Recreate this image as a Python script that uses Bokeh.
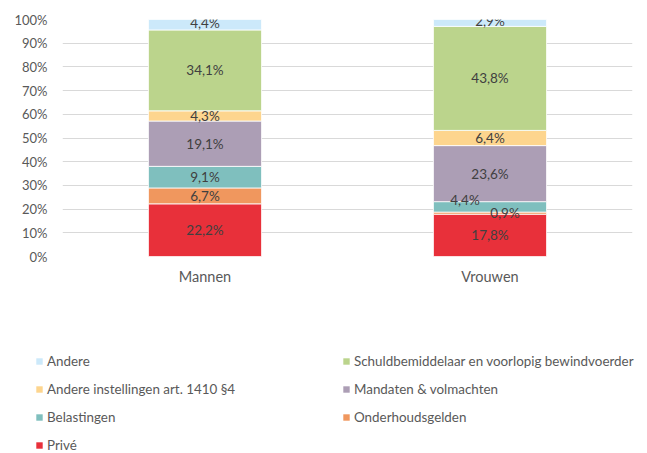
from bokeh.plotting import figure
from bokeh.layouts import column
from bokeh.models import (ColumnDataSource, Legend, LegendItem, PrintfTickFormatter,
                          FixedTicker, Range1d, FactorRange)
from bokeh.core.properties import value
from bokeh.embed import file_html
from bokeh.resources import INLINE

# ---- data ----
categories = ["Mannen", "Vrouwen"]
series_names = ["Privé", "Onderhoudsgelden", "Belastingen", "Mandaten & volmachten",
                "Andere instellingen art. 1410 §4",
                "Schuldbemiddelaar en voorlopig bewindvoerder", "Andere"]
prive = [22.2, 17.8]
onderhoudsgelden = [6.7, 0.9]
belastingen = [9.1, 4.4]
mandaten = [19.1, 23.6]
andere_instellingen = [4.3, 6.4]
schuldbemiddelaar = [34.1, 43.8]
andere = [4.4, 2.9]
y_ticks = [0, 10, 20, 30, 40, 50, 60, 70, 80, 90, 100]

series_values = [prive, onderhoudsgelden, belastingen, mandaten,
                 andere_instellingen, schuldbemiddelaar, andere]

# ---- style ----
colors = ["#E8303A", "#F0975E", "#7FBFBE", "#AC9EB5", "#FDD58E", "#BBD48C", "#CCE9FA"]
FONT = "Lato"
# manual label nudges (pixels) for (series index, category index)
label_nudges = {(2, 1): (-25, -7), (1, 1): (15, 0), (6, 0): (0, -2), (6, 1): (0, -2)}

p = figure(frame_width=570, frame_height=237, output_backend="svg", toolbar_location=None,
           x_range=FactorRange(*categories, range_padding=0),
           y_range=Range1d(0, 100),
           min_border_left=62, min_border_right=15, min_border_top=19,
           min_border_bottom=34)
p.outline_line_color = None
p.background_fill_color = "white"
p.border_fill_color = "white"

# separate strip below for the legend (frame covers the whole strip so nothing is clipped)
pl = figure(frame_width=647, frame_height=163, output_backend="svg", toolbar_location=None,
            x_range=FactorRange(*categories, range_padding=0), y_range=Range1d(0, 100),
            x_axis_location=None, y_axis_location=None,
            min_border_left=0, min_border_right=0, min_border_top=0, min_border_bottom=0)
pl.outline_line_color = None
pl.grid.visible = False
pl.background_fill_color = "white"
pl.border_fill_color = "white"

totals = [sum(v[i] for v in series_values) for i in range(len(categories))]
bottoms = [0.0] * len(categories)
legend_renderers = []
lab_x, lab_y, lab_t, lab_xo, lab_yo = [], [], [], [], []
for si, (name, vals, col) in enumerate(zip(series_names, series_values, colors)):
    norm = [vals[i] / totals[i] * 100 for i in range(len(categories))]
    tops = [bottoms[i] + norm[i] for i in range(len(categories))]
    src = ColumnDataSource(dict(x=categories, bottom=list(bottoms), top=tops))
    p.vbar(x="x", bottom="bottom", top="top", width=0.397, source=src,
           fill_color=col, line_color="white", line_width=0.8)
    lr = pl.vbar(x="x", bottom="bottom", top="top", width=0.397, source=src,
                 fill_color=col, line_color=None, visible=False)
    legend_renderers.append(lr)
    for i, c in enumerate(categories):
        lab_x.append(c)
        lab_y.append((bottoms[i] + tops[i]) / 2)
        lab_t.append(f"{vals[i]:.1f}".replace(".", ",") + "%")
        dx, dy = label_nudges.get((si, i), (0, 0))
        lab_xo.append(dx)
        lab_yo.append(dy)
    bottoms = tops

lsrc = ColumnDataSource(dict(x=lab_x, y=lab_y, t=lab_t, xo=lab_xo, yo=lab_yo))
p.text(x="x", y="y", text="t", x_offset="xo", y_offset="yo", source=lsrc,
       text_align="center", text_baseline="middle", text_font=value(FONT),
       text_font_size="13.5px", text_color="#404040")

# axes
p.yaxis.ticker = FixedTicker(ticks=y_ticks)
p.yaxis.formatter = PrintfTickFormatter(format="%d%%")
for ax in (p.xaxis, p.yaxis):
    ax.axis_line_color = None
    ax.major_tick_line_color = None
    ax.minor_tick_line_color = None
    ax.major_tick_out = 0
    ax.major_tick_in = 0
    ax.major_label_text_font = FONT
    ax.major_label_text_color = "#595959"
p.yaxis.major_label_text_font_size = "13px"
p.xaxis.major_label_text_font_size = "14.5px"
p.yaxis.major_label_standoff = 15
p.xaxis.major_label_standoff = 11
p.xgrid.grid_line_color = None
p.ygrid.grid_line_color = "#D9D9D9"
p.ygrid.grid_line_width = 1
p.ygrid.ticker = FixedTicker(ticks=y_ticks)

# legend (two columns; column-major fill)
legend_order = [6, 4, 2, 0, 5, 3, 1]
lg = Legend(items=[LegendItem(label=series_names[k], renderers=[legend_renderers[k]])
                   for k in legend_order],
            location=(35, -2), orientation="vertical", nrows=4)
lg.border_line_color = None
lg.background_fill_alpha = 0
lg.padding = 0
lg.margin = 0
lg.spacing = 8
lg.glyph_width = 8
lg.glyph_height = 8
lg.label_height = 20
lg.label_width = 287
lg.label_standoff = 4
lg.label_text_font = FONT
lg.label_text_font_size = "13.4px"
lg.label_text_color = "#595959"
lg.label_text_baseline = "middle"
pl.add_layout(lg, "center")

layout = column(p, pl, spacing=0)
open("out.html", "w").write(file_html(layout, INLINE))
